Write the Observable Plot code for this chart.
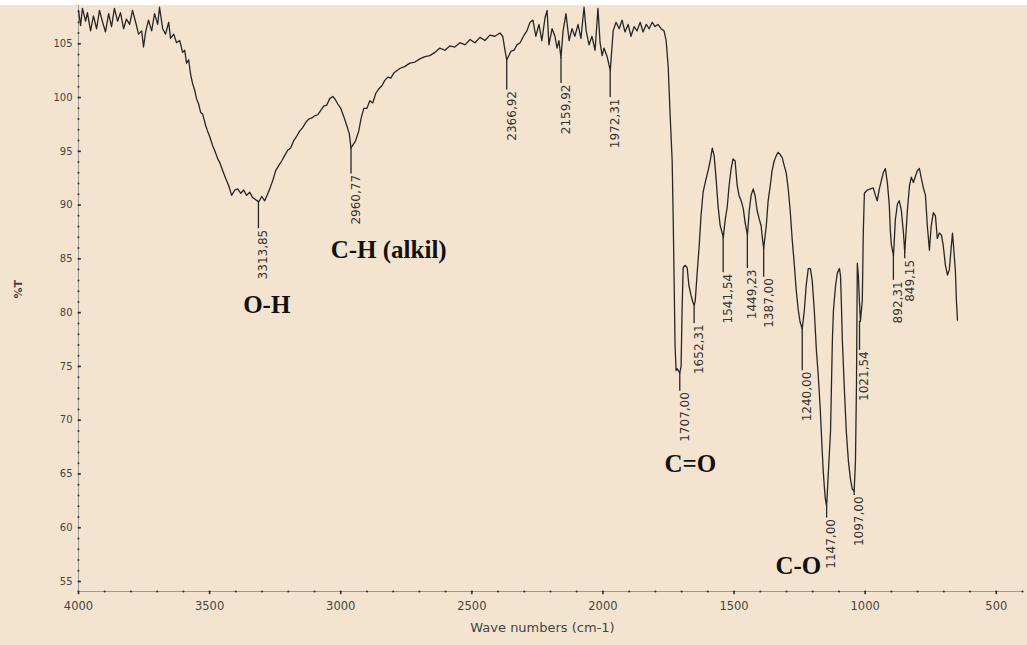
<!DOCTYPE html>
<html><head><meta charset="utf-8">
<script src="https://cdn.jsdelivr.net/npm/d3@7"></script>
<script src="https://cdn.jsdelivr.net/npm/@observablehq/plot@0.6"></script>
<style>
html,body{margin:0;padding:0;background:#fff;}
#top{height:5px;background:#fff;}
#chart svg{display:block;}
</style></head><body><div id="top"></div><div id="chart"></div>
<script>
// Spectrum (wavenumber cm-1, %T)
const waveNumbers = [4000,3992,3985,3973,3966,3954,3943,3931,3920,3908,3897,3885,3874,3863,3851,3840,3828,3817,3805,3794,3782,3771,3759,3752,3744,3733,3721,3710,3698,3691,3679,3668,3656,3649,3637,3626,3614,3603,3595,3588,3580,3572,3565,3557,3550,3542,3534,3527,3515,3508,3500,3488,3481,3469,3462,3450,3439,3427,3416,3404,3393,3381,3370,3359,3347,3336,3324,3313,3301,3290,3279,3271,3259,3248,3236,3225,3214,3202,3191,3179,3168,3156,3145,3133,3122,3110,3099,3088,3076,3065,3053,3042,3030,3023,3011,3000,2988,2977,2967,2961,2943,2931,2923,2912,2900,2889,2878,2866,2855,2843,2832,2820,2809,2797,2786,2775,2755,2736,2717,2698,2679,2660,2641,2622,2603,2584,2565,2545,2526,2507,2488,2469,2450,2431,2412,2393,2382,2375,2367,2351,2339,2328,2316,2301,2290,2278,2267,2256,2244,2233,2221,2213,2206,2194,2183,2175,2168,2160,2152,2141,2129,2118,2107,2095,2084,2072,2064,2053,2042,2030,2019,2011,2003,1996,1984,1972,1961,1950,1938,1927,1916,1904,1893,1881,1870,1858,1847,1835,1824,1812,1801,1790,1778,1767,1759,1751,1744,1736,1732,1728,1725,1721,1717,1707,1702,1698,1694,1687,1679,1672,1664,1656,1652,1648,1641,1633,1626,1618,1610,1599,1591,1583,1576,1568,1561,1553,1545,1541,1534,1526,1519,1511,1504,1496,1488,1481,1473,1465,1458,1449,1442,1435,1427,1420,1412,1404,1397,1391,1387,1377,1370,1362,1355,1347,1339,1332,1324,1316,1309,1301,1293,1286,1278,1270,1263,1255,1248,1240,1232,1225,1217,1209,1202,1194,1186,1179,1171,1164,1160,1156,1152,1147,1140,1132,1129,1125,1121,1113,1106,1098,1094,1091,1087,1079,1072,1064,1056,1049,1042,1037,1033,1030,1026,1022,1018,1011,1007,1003,992,980,969,961,954,946,938,931,923,915,908,904,900,892,885,877,870,862,854,849,839,831,824,816,808,801,793,786,778,770,763,755,748,740,732,725,717,709,702,694,686,679,671,667,663,656,652,648];
const transmittance = [108.1,106.7,108.3,107.1,107.9,106.2,107.6,106.4,108.1,107.0,106.1,107.8,106.6,108.3,107.1,107.9,106.4,107.3,106.8,108.1,107.0,105.9,106.2,104.7,106.1,107.2,106.2,107.8,106.8,108.4,106.4,105.9,107.0,105.5,105.9,105.1,105.3,104.2,104.4,103.2,103.5,102.1,101.3,100.7,99.9,99.4,98.6,98.5,97.4,96.9,96.4,95.5,95.1,94.3,94.0,93.2,92.5,91.8,90.9,91.4,91.5,91.1,91.4,90.9,91.2,90.7,90.5,90.3,90.8,90.4,91.0,91.5,92.3,93.2,93.7,94.1,94.6,95.1,95.3,96.0,96.4,96.9,97.2,97.7,98.0,98.1,98.3,98.4,98.8,99.2,99.3,99.9,100.1,99.9,99.4,99.0,98.2,97.4,96.6,95.3,96.0,96.9,98.0,99.0,99.0,99.7,99.5,100.4,100.8,101.1,101.6,101.9,101.8,102.3,102.5,102.7,102.9,103.2,103.3,103.6,103.8,103.9,104.2,104.6,104.4,104.8,104.7,105.1,104.9,105.4,105.1,105.6,105.3,105.8,105.7,106.0,105.7,104.6,103.5,104.3,104.4,104.9,105.1,105.8,106.2,107.0,107.2,105.7,106.8,105.3,107.4,108.1,104.9,106.4,105.7,104.6,105.3,103.7,106.2,107.8,105.3,106.4,105.7,106.8,105.5,108.4,106.2,104.9,105.7,104.4,108.3,105.1,103.9,104.6,103.8,102.5,106.2,107.0,106.4,107.2,106.1,106.8,105.7,106.6,106.2,107.0,106.1,106.8,106.4,107.0,106.6,106.8,106.4,106.2,105.3,102.8,98.5,94.1,88.6,82.0,76.9,74.6,74.8,74.4,75.0,80.5,84.2,84.4,84.2,82.5,81.6,80.9,80.7,81.1,83.6,86.2,89.0,91.2,92.1,93.2,94.1,95.3,94.6,92.3,89.9,88.1,87.4,87.0,88.6,89.8,91.8,93.4,94.3,94.1,91.8,90.9,90.4,89.7,88.4,87.2,89.5,90.9,91.5,90.9,89.5,88.7,88.1,86.7,86.0,88.1,90.4,91.8,93.2,94.1,94.6,94.9,94.7,94.4,93.7,93.0,91.4,89.5,86.7,84.4,82.1,80.2,79.1,78.5,80.2,82.5,84.1,84.1,83.0,80.2,76.5,74.2,70.9,67.2,65.3,63.9,62.7,62.0,65.3,69.0,72.7,77.4,80.2,82.5,83.7,84.1,83.4,81.1,77.4,72.7,69.0,66.2,64.5,63.6,63.4,66.2,73.6,84.6,83.5,81.1,79.2,81.1,87.6,91.1,91.4,91.5,91.6,90.9,90.4,91.5,92.3,93.0,93.4,92.0,90.0,87.6,86.3,85.3,88.6,90.1,90.4,89.5,87.4,85.6,89.5,91.8,92.6,92.1,92.7,93.2,93.4,92.5,91.6,90.9,88.1,85.8,88.1,89.3,89.0,86.9,87.4,87.2,86.2,84.4,83.5,84.0,86.3,87.4,86.2,83.9,81.1,79.3];

// Peak markers
const peakLabels = ["3313,85","2960,77","2366,92","2159,92","1972,31","1707,00","1652,31","1541,54","1449,23","1387,00","1240,00","1147,00","1097,00","1021,54","892,31","849,15"];
const peakWave = [3313.85,2960.77,2366.92,2159.92,1972.31,1707,1652.31,1541.54,1449.23,1387,1240,1147,1042,1021.54,892.31,849.15];
const peakTop = [90.3,95.3,103.5,103.7,102.5,74.4,80.7,87.0,87.2,86.0,78.5,62.0,63.4,79.2,85.3,85.6];
const peakBottom = [87.8,92.9,100.7,101.3,100.0,72.7,79.0,83.7,84.1,83.3,74.6,60.9,63.0,76.5,83.0,85.0];

// Functional group annotations
const groupLabels = ["O-H","C-H (alkil)","C=O","C-O"];
const groupWave = [3282,2817,1667,1255];
const groupT = [80.75,85.87,65.96,56.47];

// Axis ticks
const yTicks = [55,60,65,70,75,80,85,90,95,100,105];
const yMinor = [55,56,57,58,59,60,61,62,63,64,65,66,67,68,69,70,71,72,73,74,75,76,77,78,79,80,81,82,83,84,85,86,87,88,89,90,91,92,93,94,95,96,97,98,99,100,101,102,103,104,105,106,107,108];
const xTicks = [4000,3500,3000,2500,2000,1500,1000,500];
const xMinor = [4000,3900,3800,3700,3600,3500,3400,3300,3200,3100,3000,2900,2800,2700,2600,2500,2400,2300,2200,2100,2000,1900,1800,1700,1600,1500,1400,1300,1200,1100,1000,900,800,700,600,500,400];
const xTitle = ["Wave numbers (cm-1)"];
const yTitle = ["%T"];

const xMin = 4000, yMin = 54.07;
const spectrum = waveNumbers.map((w, i) => ({w, t: transmittance[i]}));
const peaks = peakLabels.map((label, i) => ({label, w: peakWave[i], top: peakTop[i], bot: peakBottom[i]}));
const groups = groupLabels.map((label, i) => ({label, w: groupWave[i], t: groupT[i]}));

const ink = "#262626";
const chart = Plot.plot({
  width: 1027, height: 640,
  marginLeft: 78, marginRight: 5, marginTop: 0, marginBottom: 54,
  style: {background: "#f4e4cf", fontFamily: "DejaVu Sans", overflow: "visible"},
  x: {domain: [4000, 400], axis: null},
  y: {domain: [54.07, 108.56], axis: null},
  marks: [
    Plot.ruleX([xMin], {stroke: "#9a9a9a", strokeWidth: 1}),
    Plot.ruleY([yMin], {stroke: "#9a9a9a", strokeWidth: 1}),
    Plot.dot(yMinor, {x: xMin, y: d => d, r: 1, fill: "#333", stroke: null}),
    Plot.ruleY(yTicks, {x1: xMin, x2: xMin - 11, y: d => d, stroke: "#333", strokeWidth: 1.6}),
    Plot.text(yTicks, {x: xMin, y: d => d, text: d => String(d), textAnchor: "end", dx: -6, fontSize: 10, fill: "#444"}),
    Plot.dot(xMinor, {x: d => d, y: yMin, r: 1.1, fill: "#333", stroke: null}),
    Plot.ruleX(xTicks, {x: d => d, y1: yMin, y2: yMin - 0.3, stroke: "#333", strokeWidth: 1.6}),
    Plot.text(xTicks, {x: d => d, y: yMin, text: d => String(d), dy: 15, fontSize: 11.5, fill: "#444"}),
    Plot.text(xTitle, {frameAnchor: "bottom", text: d => d, dy: 40, dx: -8, fontSize: 13, fill: "#444"}),
    Plot.text(yTitle, {frameAnchor: "left", text: d => d, dx: -60, rotate: -90, fontSize: 11, fontWeight: "bold", fill: "#444"}),
    Plot.line(spectrum, {x: "w", y: "t", stroke: ink, strokeWidth: 1.3}),
    Plot.ruleX(peaks, {x: "w", y1: "top", y2: "bot", stroke: ink, strokeWidth: 1.3}),
    Plot.text(peaks, {x: "w", y: "bot", text: "label", rotate: -90, textAnchor: "end", dx: 5, dy: 1, fontSize: 12, fill: "#333"}),
    Plot.text(groups, {x: "w", y: "t", text: "label", fontFamily: "Liberation Serif", fontWeight: "bold", fontSize: 25, fill: "#111"})
  ]
});
document.getElementById("chart").appendChild(chart);
</script></body></html>
